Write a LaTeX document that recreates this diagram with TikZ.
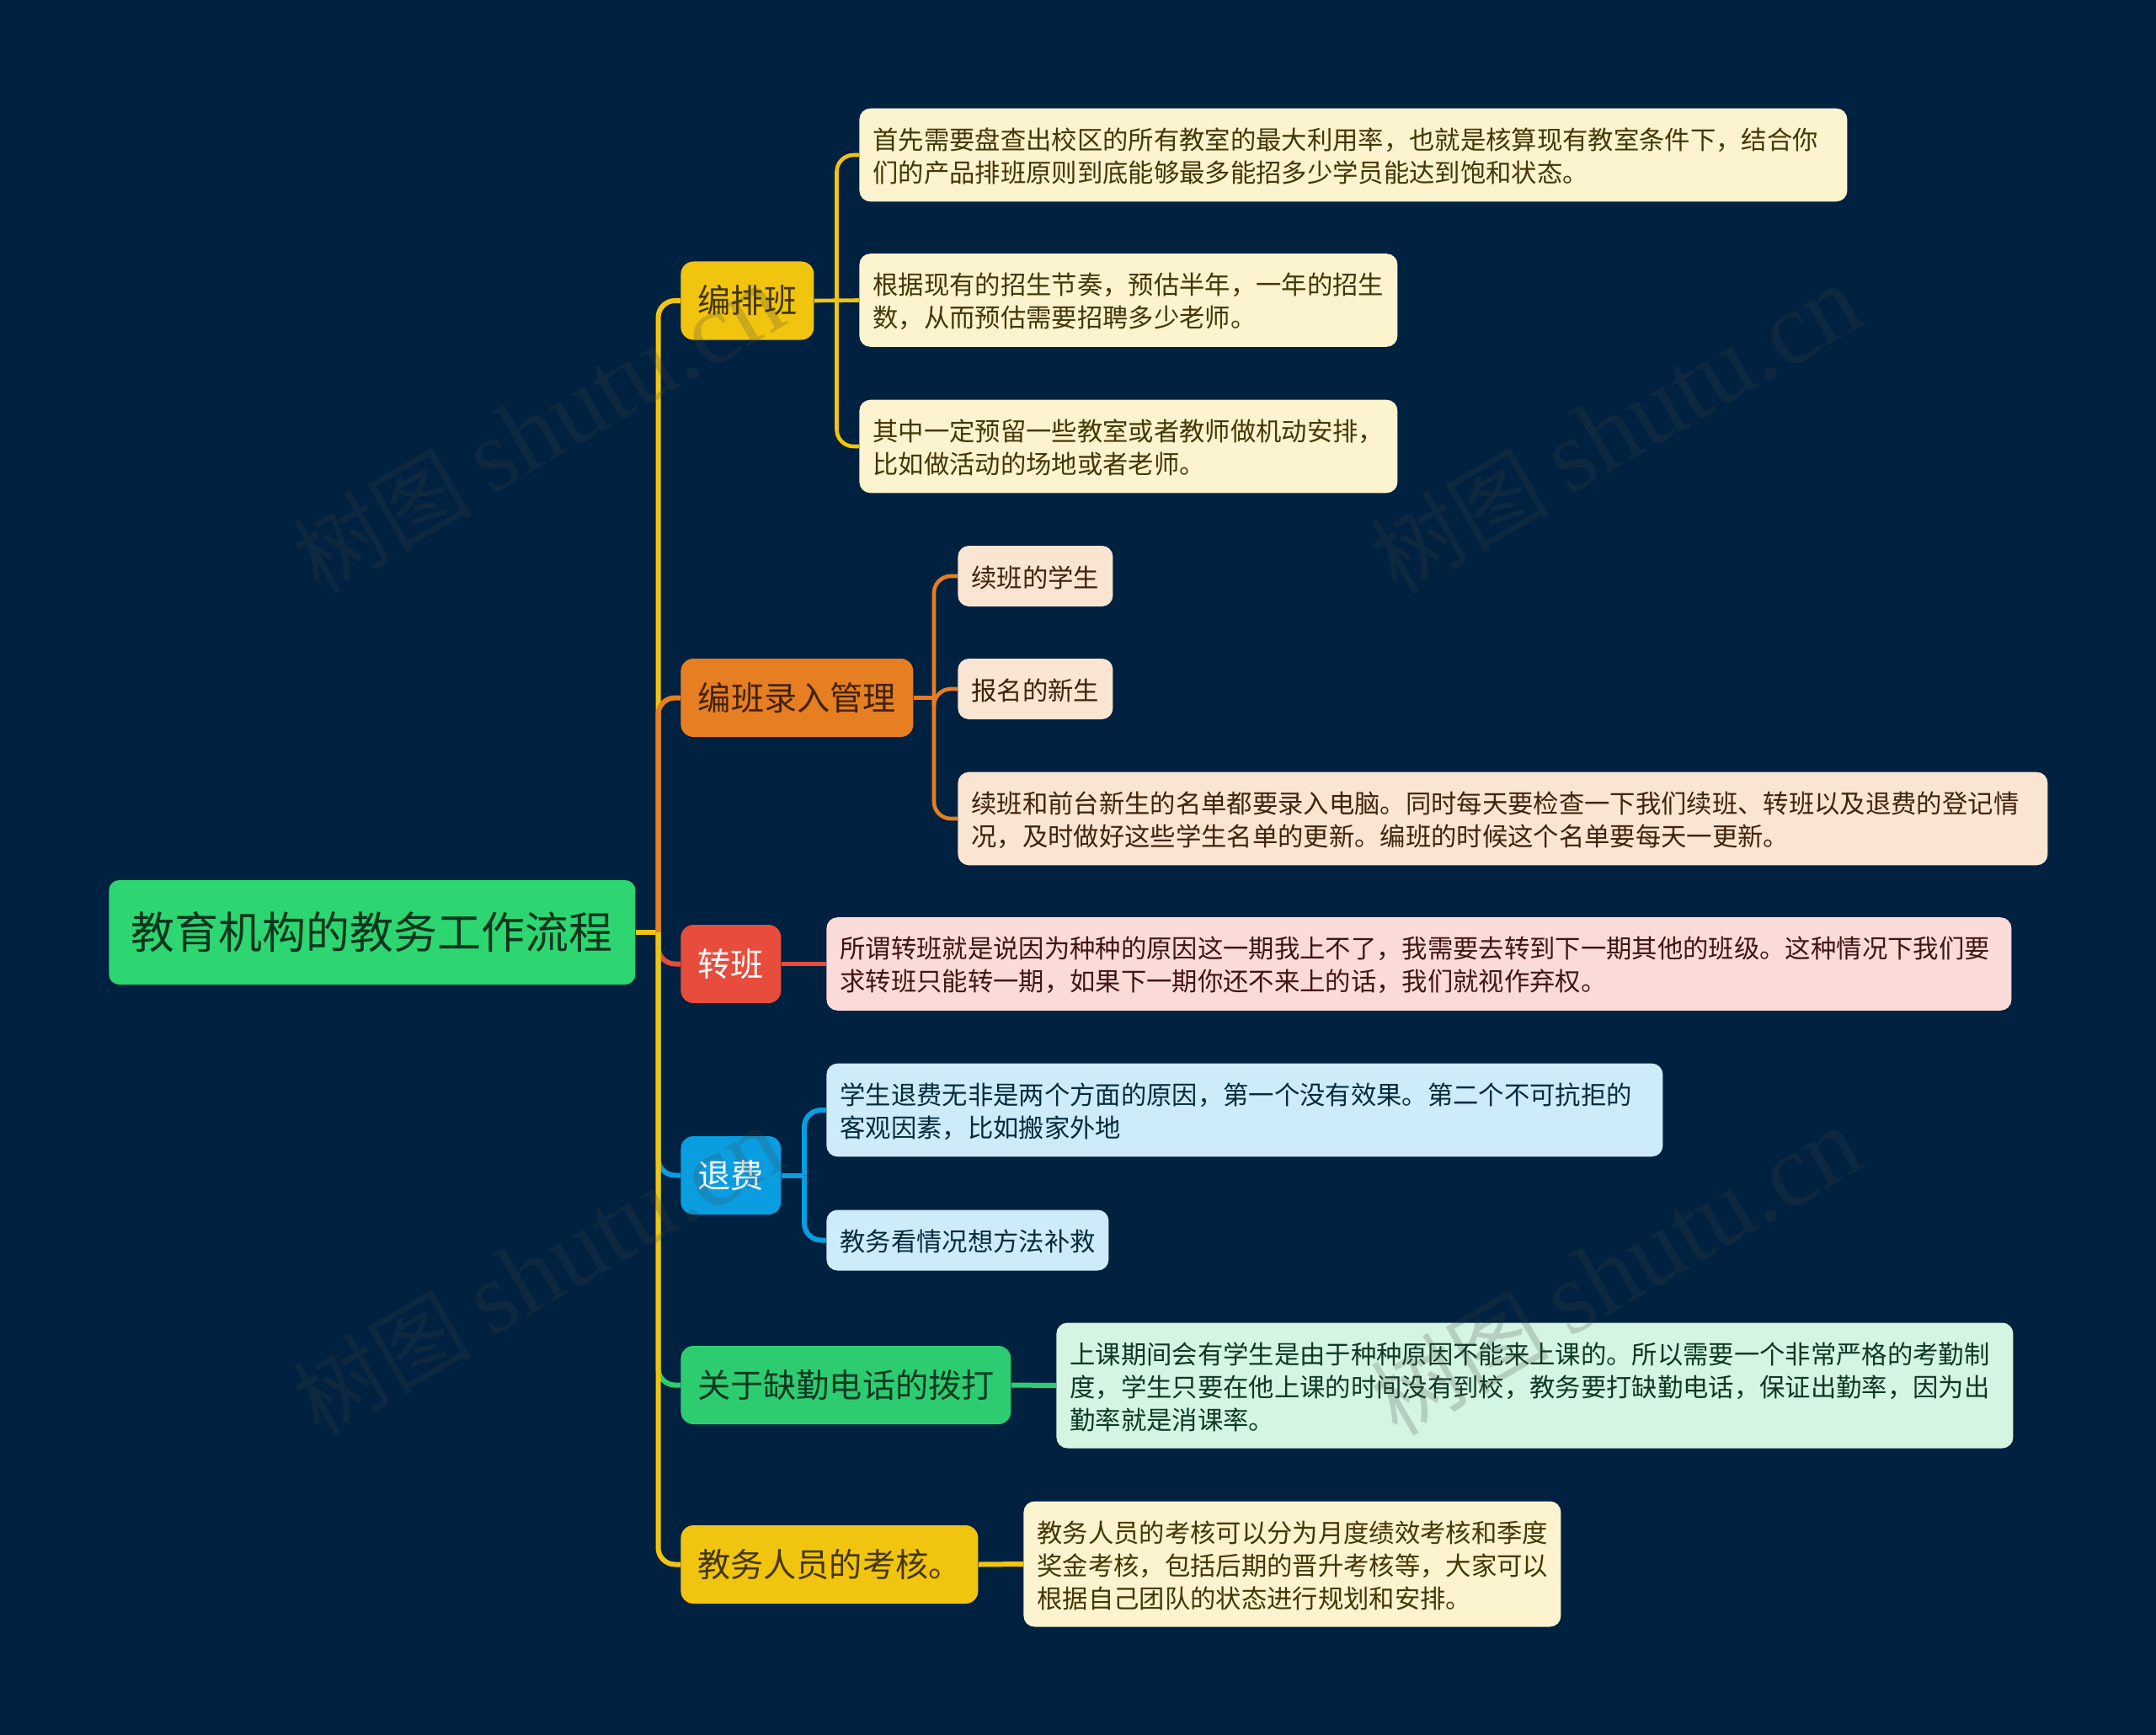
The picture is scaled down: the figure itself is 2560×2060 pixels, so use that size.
\documentclass[tikz,border=0pt]{standalone}
\usepackage{fontspec}
\setmainfont{Noto Sans CJK SC}
\newfontfamily\markfont{Liberation Serif}
\definecolor{bgblue}{HTML}{00213F}
\definecolor{rootgreen}{HTML}{2ED672}
\definecolor{lineyellow}{HTML}{F1C40F}
\definecolor{lineorange}{HTML}{E67E22}
\definecolor{linered}{HTML}{E74C3C}
\definecolor{lineblue}{HTML}{0A9DE0}
\definecolor{linegreen}{HTML}{2ECC71}
\definecolor{cardyellow}{HTML}{FCF3CF}
\definecolor{cardorange}{HTML}{FAE5D3}
\definecolor{cardred}{HTML}{FADBD8}
\definecolor{cardblue}{HTML}{CEEBF9}
\definecolor{cardgreen}{HTML}{D5F5E3}
\definecolor{markgray}{HTML}{444444}
\tikzset{
  rootbox/.style={fill=rootgreen,text=black!75!rootgreen,rounded corners=6pt,anchor=west,inner sep=0pt,
    minimum width=312.5pt,minimum height=62pt,font=\fontsize{26}{30}\selectfont},
  topicbox/.style={rounded corners=7.5pt,anchor=west,inner sep=0pt,minimum height=46.5pt,
    font=\fontsize{19.6}{24}\selectfont},
  cardbox/.style={rounded corners=6.5pt,anchor=west,inner xsep=8pt,inner ysep=0pt,align=left,
    font=\fontsize{15.17}{19.5}\selectfont,execute at begin node={\leavevmode\vadjust pre{\vskip 1.5pt}}},
  card2/.style={cardbox,minimum height=55.3pt},
  card3/.style={cardbox,minimum height=74.5pt},
  card1/.style={cardbox,minimum height=36pt},
  link/.style={line width=3pt,rounded corners=10pt},
  thinlink/.style={line width=2.3pt,rounded corners=10pt},
  straightlink/.style={line width=2.3pt},
  thicklink/.style={line width=3pt},
  markbox/.style={text=markgray,opacity=.22,rotate=30,inner sep=0pt,font=\fontsize{53}{60}\selectfont}
}
\newcommand{\markname}{树图 {\markfont\fontsize{61}{60}\selectfont shutu.cn}}
\begin{document}
\begin{tikzpicture}[x=0.5pt,y=-0.5pt]
\fill[bgblue] (0,0) rectangle (2560,2060);
\useasboundingbox (0,0) rectangle (2560,2060);

\node[rootbox] (root) at (129,1107) {教育机构的教务工作流程};
\coordinate (trunk) at (781.5,1107);

\node[topicbox,fill=lineyellow,text=black!72!lineyellow,minimum width=79pt] (paiban) at (808,357) {编排班};
\node[topicbox,fill=lineorange,text=black!72!lineorange,minimum width=138pt] (luru) at (808,828.5) {编班录入管理};
\node[topicbox,fill=linered,text=white,minimum width=59.5pt] (zhuan) at (808,1144.5) {转班};
\node[topicbox,fill=lineblue,text=white,minimum width=59.5pt] (tui) at (808,1395.5) {退费};
\node[topicbox,fill=linegreen,text=black!72!linegreen,minimum width=196pt] (queqin) at (808,1644.5) {关于缺勤电话的拨打};
\node[topicbox,fill=lineyellow,text=black!72!lineyellow,minimum width=176.5pt] (kaohe) at (808,1857.5) {教务人员的考核。};

\coordinate (paibanfork) at (993.5,357);
\coordinate (lurufork) at (1109,828.5);
\coordinate (tuifork) at (955,1395.5);

\node[card2,fill=cardyellow,text=black!72!lineyellow,text width=570.5pt] (paiban1) at (1020,184) {首先需要盘查出校区的所有教室的最大利用率，也就是核算现有教室条件下，结合你\\们的产品排班原则到底能够最多能招多少学员能达到饱和状态。};
\node[card2,fill=cardyellow,text=black!72!lineyellow,text width=303.5pt] (paiban2) at (1020,356.5) {根据现有的招生节奏，预估半年，一年的招生\\数，从而预估需要招聘多少老师。};
\node[card2,fill=cardyellow,text=black!72!lineyellow,text width=303.5pt] (paiban3) at (1020,530) {其中一定预留一些教室或者教师做机动安排，\\比如做活动的场地或者老师。};

\node[card1,fill=cardorange,text=black!72!lineorange,text width=76pt] (luru1) at (1137,684) {续班的学生};
\node[card1,fill=cardorange,text=black!72!lineorange,text width=76pt] (luru2) at (1137,818) {报名的新生};
\node[card2,fill=cardorange,text=black!72!lineorange,text width=631pt] (luru3) at (1137,972) {续班和前台新生的名单都要录入电脑。同时每天要检查一下我们续班、转班以及退费的登记情\\况，及时做好这些学生名单的更新。编班的时候这个名单要每天一更新。};

\node[card2,fill=cardred,text=black!72!linered,text width=687.5pt] (zhuan1) at (981,1144.5) {所谓转班就是说因为种种的原因这一期我上不了，我需要去转到下一期其他的班级。这种情况下我们要\\求转班只能转一期，如果下一期你还不来上的话，我们就视作弃权。};

\node[card2,fill=cardblue,text=black!72!lineblue,text width=480.5pt] (tui1) at (981,1318) {学生退费无非是两个方面的原因，第一个没有效果。第二个不可抗拒的\\客观因素，比如搬家外地};
\node[card1,fill=cardblue,text=black!72!lineblue,text width=151.5pt] (tui2) at (981,1472.5) {教务看情况想方法补救};

\node[card3,fill=cardgreen,text=black!72!linegreen,text width=552pt] (queqin1) at (1254,1645) {上课期间会有学生是由于种种原因不能来上课的。所以需要一个非常严格的考勤制\\度，学生只要在他上课的时间没有到校，教务要打缺勤电话，保证出勤率，因为出\\勤率就是消课率。};

\node[card3,fill=cardyellow,text=black!72!lineyellow,text width=303pt] (kaohe1) at (1215,1857) {教务人员的考核可以分为月度绩效考核和季度\\奖金考核，包括后期的晋升考核等，大家可以\\根据自己团队的状态进行规划和安排。};

% trunk
\draw[thicklink,lineyellow] (root.east) -- (trunk);
\draw[link,lineyellow] (trunk) |- (paiban.west);
\draw[link,lineorange] (trunk) |- (luru.west);
\draw[link,linered] (trunk) |- (zhuan.west);
\draw[link,lineblue] (trunk) |- (tui.west);
\draw[link,linegreen] (trunk) |- (queqin.west);
\draw[link,lineyellow] (trunk) |- (kaohe.west);

% 编排班
\draw[straightlink,lineyellow] (paiban.east) -- (paiban2.west);
\draw[thinlink,lineyellow] (paibanfork) |- (paiban1.west);
\draw[thinlink,lineyellow] (paibanfork) |- (paiban3.west);

% 编班录入管理
\draw[straightlink,lineorange] (luru.east) -- (lurufork);
\draw[thinlink,lineorange] (lurufork) |- (luru1.west);
\draw[thinlink,lineorange] (lurufork) |- (luru2.west);
\draw[thinlink,lineorange] (lurufork) |- (luru3.west);

\draw[straightlink,linered] (zhuan.east) -- (zhuan1.west);

% 退费
\draw[thicklink,lineblue] (tui.east) -- (tuifork);
\draw[link,lineblue] (tuifork) |- (tui1.west);
\draw[link,lineblue] (tuifork) |- (tui2.west);

\draw[thicklink,linegreen] (queqin.east) -- (queqin1.west);
\draw[thicklink,lineyellow] (kaohe.east) -- (kaohe1.west);

\node[markbox] (mark1) at (639,510) {\markname};
\node[markbox] (mark2) at (1919,510) {\markname};
\node[markbox] (mark3) at (639,1510) {\markname};
\node[markbox] (mark4) at (1919,1510) {\markname};
\end{tikzpicture}
\end{document}
